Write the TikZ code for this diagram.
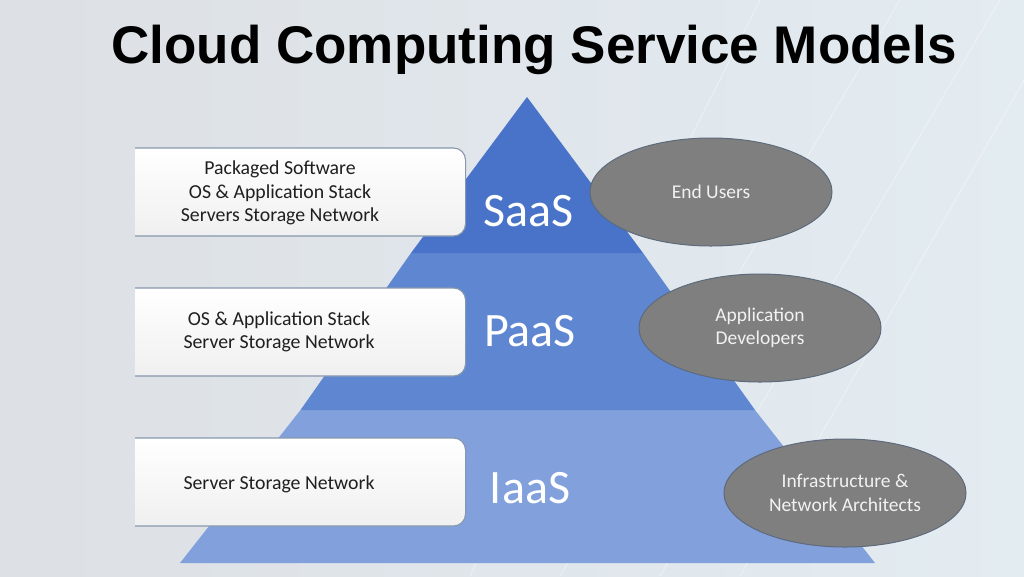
\documentclass[tikz,border=0pt]{standalone}
\usepackage{fontspec}
\usetikzlibrary{shapes.geometric}
\setmainfont{Carlito}
\newfontfamily\titlefont{Liberation Sans}
\definecolor{bgL}{HTML}{DDE0E5}
\definecolor{bgR}{HTML}{E3ECF1}
\definecolor{saas}{HTML}{4873C8}
\definecolor{paas}{HTML}{5E86D1}
\definecolor{iaas}{HTML}{82A0DC}
\definecolor{boxline}{HTML}{8797AE}
\definecolor{ellfill}{HTML}{7F7F7F}
\definecolor{ellline}{HTML}{5E6A7C}
\definecolor{elltext}{HTML}{F2F2F2}
\begin{document}
\begin{tikzpicture}[x=1pt,y=-1pt,
  infobox/.style={draw=boxline, line width=1.1pt, top color=white, bottom color=white!94!black,
    minimum width=345pt, minimum height=88pt, anchor=west, inner sep=0pt,
    rounded corners=12pt},
  boxtext/.style={align=center, font=\fontsize{19.8}{23.5}\selectfont, text=black!88, inner sep=0pt},
  role/.style={ellipse, draw=ellline, line width=1pt, fill=ellfill, minimum width=242pt,
    minimum height=108pt, inner sep=0pt, align=center, text=elltext,
    font=\fontsize{19.5}{23.5}\selectfont},
  tier/.style={text=white, font=\fontsize{48}{48}\selectfont, inner sep=0pt}
]
\useasboundingbox (0,0) rectangle (1024,576);
\shade[left color=bgL, right color=bgR] (0,0) rectangle (1024,576);
% faint diagonal streaks
\foreach \a/\b in {900/560, 1000/660, 1070/740, 760/470}{
  \draw[white, opacity=0.35, line width=1pt] (\a,0) -- (\b,576);
}
% title
\node[font=\titlefont\bfseries\fontsize{53}{53}\selectfont, inner sep=0pt] (title) at (534,50) {Cloud Computing Service Models};
% pyramid
\fill[iaas] (300.5,410) -- (755,410) -- (875,563) -- (180,563) -- cycle;
\fill[paas] (411,253) -- (643,253) -- (755,410) -- (300.5,410) -- cycle;
\fill[saas] (527,97) -- (643,253) -- (411,253) -- cycle;
\node[tier] (saasL) at (529,211) {SaaS};
\node[tier] (paasL) at (530,331) {PaaS};
\node[tier] (iaasL) at (530,488) {IaaS};
% left boxes (left side cut off)
\begin{scope}
\clip (135,0) rectangle (1024,576);
\node[infobox] (box1) at (120,192) {};
\node[infobox] (box2) at (120,332) {};
\node[infobox] (box3) at (120,482) {};
\end{scope}
\node[boxtext] (t1) at (280,193) {Packaged Software\\OS \& Application Stack\\Servers Storage Network};
\node[boxtext] (t2) at (279,332) {OS \& Application Stack\\Server Storage Network};
\node[boxtext] (t3) at (279,484) {Server Storage Network};
% roles
\node[role] (e1) at (711,192) {End Users};
\node[role] (e2) at (760,328) {Application\\Developers};
\node[role] (e3) at (845,493) {Infrastructure \&\\Network Architects};
\end{tikzpicture}
\end{document}
